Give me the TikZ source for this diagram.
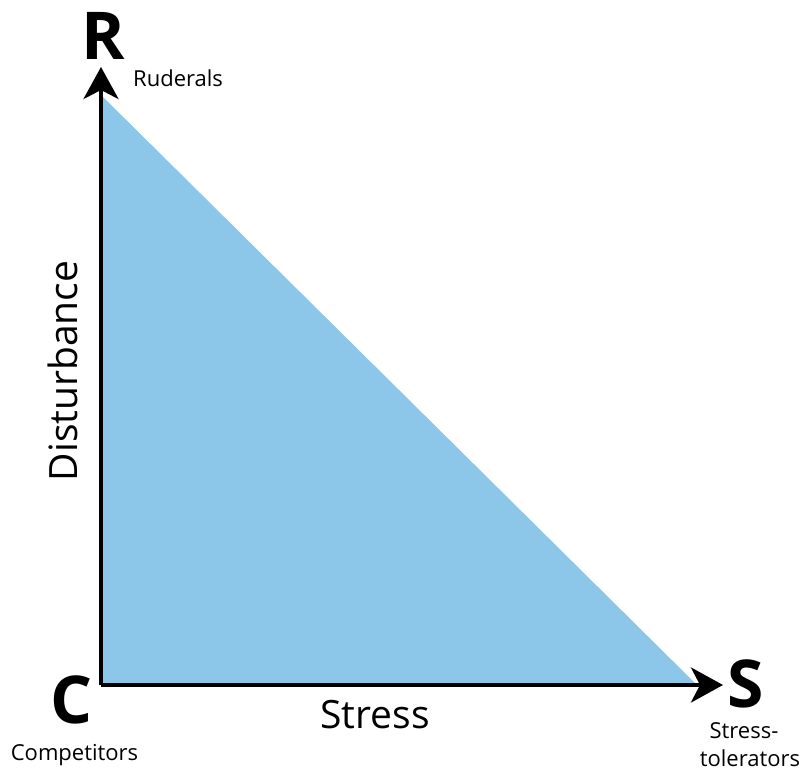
\documentclass[tikz,border=0pt]{standalone}
\usepackage{fontspec}
\setmainfont{Open Sans}
\usetikzlibrary{arrows.meta}
\definecolor{triblue}{RGB}{140,198,232}
\tikzset{
  axis/.style={line width=4pt, -{Stealth[length=32pt,width=35pt,inset=9pt]}},
  corner/.style={font=\fontsize{66}{66}\selectfont\bfseries, inner sep=0pt, anchor=base},
  kind/.style={font=\fontsize{22}{26}\selectfont, inner sep=0pt},
  axlabel/.style={font=\fontsize{39}{44}\selectfont, inner sep=0pt, anchor=base},
}
\begin{document}
\begin{tikzpicture}[x=1pt,y=-1pt]
\useasboundingbox (0,0) rectangle (807,773);
\coordinate (O) at (101,685);
\coordinate (Rtip) at (101,67);
\coordinate (Stip) at (723,685);
\coordinate (Rtri) at (101,95);
\coordinate (Stri) at (697,685);
\fill[triblue] (O) -- (Rtri) -- (Stri) -- cycle;
\draw[axis] (O) -- (Rtip);
\draw[axis] (O) -- (Stip);
\node[corner] (R) at (103,60) {R};
\node[corner] (C) at (72,723) {C};
\node[corner] (S) at (746,707) {S};
\node[kind, anchor=base west] (rud) at (133,87) {Ruderals};
\node[kind, anchor=base] (comp) at (74.5,760) {Competitors};
\node[kind, anchor=base] (st1) at (744,738) {Stress-};
\node[kind, anchor=base] (st2) at (750,766) {tolerators};
\node[axlabel] (stress) at (375,728) {Stress};
\node[axlabel, rotate=90] (dist) at (77,371) {Disturbance};
\end{tikzpicture}
\end{document}
